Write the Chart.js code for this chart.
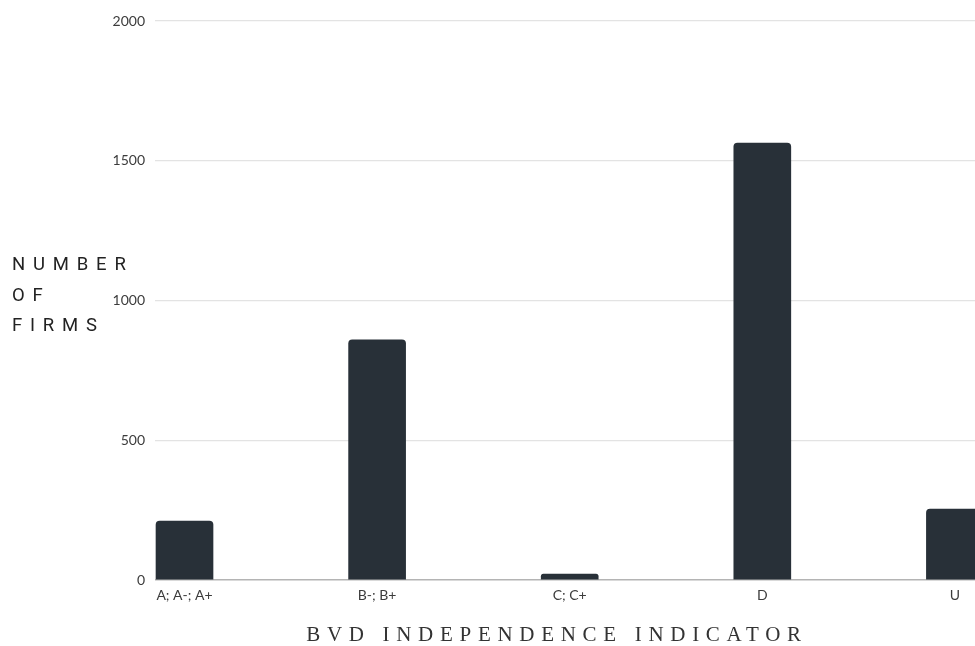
<!DOCTYPE html>
<html>
<head>
<meta charset="utf-8">
<script src="https://cdn.jsdelivr.net/npm/chart.js@4.4.1/dist/chart.umd.min.js"></script>
<style>
    html, body { margin: 0; padding: 0; background: #fff; }
    #wrap { position: relative; width: 975px; height: 646px; overflow: hidden; }
    #yTitle {
        position: absolute; left: 12px; top: 249px;
        font-family: Roboto, "Noto Sans", sans-serif; font-size: 18.5px;
        line-height: 30.5px; letter-spacing: 7.8px; color: #222;
    }
    #xTitle {
        position: absolute; left: 0; width: 1114px; top: 622px; text-align: center;
        font-family: "Liberation Serif", "DejaVu Serif", serif; font-size: 21px;
        letter-spacing: 6.7px; color: #333;
    }
</style>
</head>
<body>
<div id="wrap">
    <canvas id="indicatorChart" width="975" height="646"></canvas>
    <div id="yTitle">NUMBER<br>OF<br>FIRMS</div>
    <div id="xTitle">BVD INDEPENDENCE INDICATOR</div>
</div>
<script>
// categorias e valores
const categories = ['A; A-; A+', 'B-; B+', 'C; C+', 'D', 'U'];
const firmCounts = [211, 859, 21, 1563, 254];
const yTicks = [0, 500, 1000, 1500, 2000];

document.addEventListener('DOMContentLoaded', function() {

    const ctx = document.getElementById('indicatorChart');
    new Chart(ctx, {
        type: 'bar',
        data: {
            datasets: [{
                label: 'Number of firms',
                data: categories.map((c, i) => ({ x: i, y: firmCounts[i] })),
                backgroundColor: '#283038',
                barThickness: 57,
                borderRadius: { topLeft: 4, topRight: 4 },
                borderSkipped: 'bottom'
            }]
        },
        options: {
            responsive: false,
            animation: false,
            layout: { padding: { top: 21, right: 0, left: 0, bottom: 0 } },
            plugins: {
                legend: { display: false },
                tooltip: { enabled: false }
            },
            scales: {
                x: {
                    type: 'linear',
                    offset: false,
                    min: -0.1532,
                    max: 4.1043,
                    afterBuildTicks: function(scale) {
                        scale.ticks = categories.map((c, i) => ({ value: i }));
                    },
                    afterFit: function(scale) { scale.height = 66; },
                    ticks: {
                        padding: 7,
                        color: '#3c3c3c',
                        font: { family: 'Lato', size: 14 },
                        maxRotation: 0,
                        autoSkip: false,
                        callback: function(value) { return categories[value]; }
                    },
                    grid: { display: false, drawTicks: false, offset: false },
                    border: { display: false }
                },
                y: {
                    min: 0,
                    max: 2000,
                    afterBuildTicks: function(scale) {
                        scale.ticks = yTicks.map(v => ({ value: v }));
                    },
                    afterFit: function(scale) { scale.width = 155; },
                    ticks: {
                        padding: 10,
                        color: '#3c3c3c',
                        font: { family: 'Lato', size: 14 },
                        callback: function(value) { return String(value); }
                    },
                    grid: {
                        drawTicks: false,
                        lineWidth: function(c) { return c.tick && c.tick.value === 0 ? 1.5 : 1.2; },
                        color: function(c) { return c.tick && c.tick.value === 0 ? '#b4b4b4' : '#e3e3e3'; }
                    },
                    border: { display: false }
                }
            }
        }
    });

});
</script>
</body>
</html>
